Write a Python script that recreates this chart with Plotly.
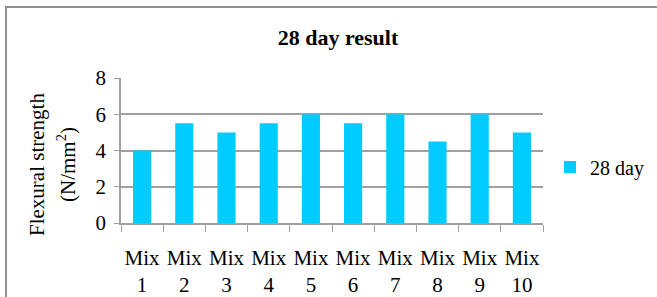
import plotly.graph_objects as go

categories = ["Mix<br>1", "Mix<br>2", "Mix<br>3", "Mix<br>4", "Mix<br>5",
              "Mix<br>6", "Mix<br>7", "Mix<br>8", "Mix<br>9", "Mix<br>10"]
values_28day = [4, 5.5, 5, 5.5, 6, 5.5, 6, 4.5, 6, 5]
y_ticks = [0, 2, 4, 6, 8]
y_title_lines = ["Flexural strength", "(N/mm<sup>2</sup>)"]

W, H = 657, 297
L, R, T, B = 121, 114, 78, 74
pw = W - L - R
ph = H - T - B

FONT = "Liberation Serif, Times New Roman, serif"

def px_x(p):
    return (p - L) / pw

def px_y(p):
    return (H - B - p) / ph

fig = go.Figure()
fig.add_trace(go.Bar(
    x=categories, y=values_28day, name="28 day",
    marker=dict(color="#00CCFF", line=dict(width=0)),
))

fig.update_layout(
    width=W, height=H,
    margin=dict(l=L, r=R, t=T, b=B, autoexpand=False),
    paper_bgcolor="white", plot_bgcolor="white",
    font=dict(family=FONT, color="black", size=18),
    bargap=0.57,
    title=dict(text="<b>28 day result</b>", font=dict(size=22, family=FONT),
               x=338 / W, xref="container", xanchor="center",
               y=1 - 37 / H, yref="container", yanchor="middle"),
    showlegend=True,
    legend=dict(x=px_x(550), y=px_y(167), xanchor="left", yanchor="middle",
                font=dict(size=20, family=FONT), bgcolor="rgba(0,0,0,0)",
                itemwidth=30),
    xaxis=dict(
        type="category", showgrid=False, showline=True, linecolor="#A0A0A0", linewidth=1.5,
        ticks="outside", tickson="boundaries", ticklen=7, tickcolor="#A0A0A0", tickwidth=1,
        tickfont=dict(size=21, family=FONT), ticklabelstandoff=15, tickangle=0,
        automargin=False,
    ),
    yaxis=dict(
        range=[0, 8], tickvals=y_ticks, showgrid=True, gridcolor="#A0A0A0", gridwidth=1.5,
        showline=True, linecolor="#A0A0A0", linewidth=1.5,
        ticks="outside", ticklen=5, tickcolor="#A0A0A0",
        tickfont=dict(size=21, family=FONT), zeroline=False, ticklabelstandoff=4,
        automargin=False,
    ),
)

# Y-axis title as two rotated lines
for text, cx in zip(y_title_lines, [37, 66]):
    fig.add_annotation(text=text, xref="paper", yref="paper",
                       x=px_x(cx), y=px_y(165), xanchor="center", yanchor="middle",
                       textangle=-90, showarrow=False,
                       font=dict(size=21, family=FONT, color="black"))

# Outer chart-area border (top and left visible, right/bottom cut off)
fig.add_shape(type="rect", xref="paper", yref="paper",
              x0=px_x(6), x1=px_x(W + 20),
              y0=px_y(H + 20), y1=px_y(7),
              line=dict(color="#909090", width=2), fillcolor="rgba(0,0,0,0)", layer="below")

fig.write_html("out.html", config={"displayModeBar": False},
               post_script="document.body.style.margin='0';")
